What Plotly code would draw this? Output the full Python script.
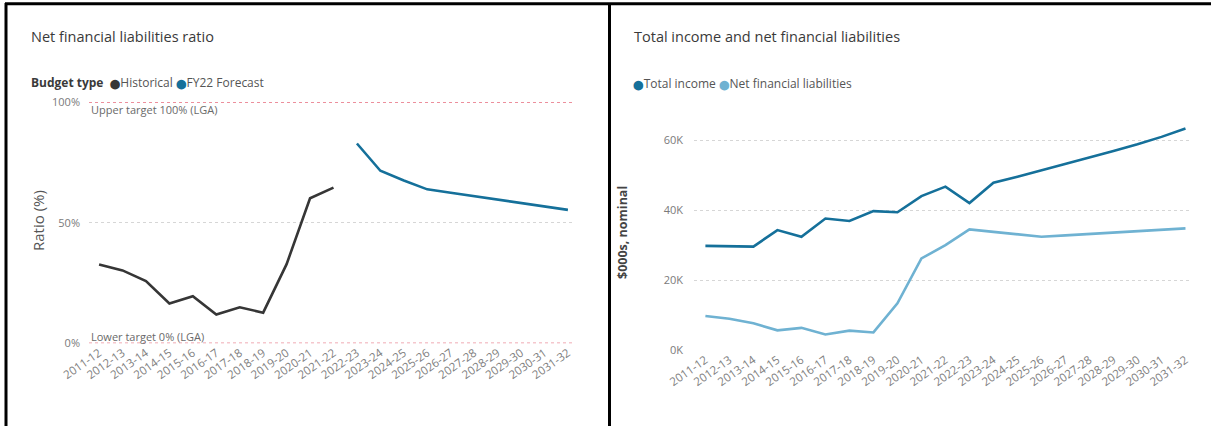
import plotly.graph_objects as go

W, H = 1211, 426

years = ["2011-12", "2012-13", "2013-14", "2014-15", "2015-16", "2016-17", "2017-18",
         "2018-19", "2019-20", "2020-21", "2021-22", "2022-23", "2023-24", "2024-25",
         "2025-26", "2026-27", "2027-28", "2028-29", "2029-30", "2030-31", "2031-32"]

hist_years = years[:11]
hist_ratio = [32.7, 30.2, 25.8, 16.5, 19.5, 11.9, 14.9, 12.7, 32.8, 60.1, 64.5]
fc_years = years[11:]
fc_ratio = [82.8, 71.5, 67.5, 63.8, 62.4, 61.0, 59.6, 58.2, 56.8, 55.3]

total_income = [29.8, 29.8, 29.6, 34.3, 32.4, 37.6, 36.9, 39.7, 39.4, 44.0, 46.7,
                42.0, 47.8, 49.5, 51.3, 53.1, 55.0, 56.9, 58.8, 60.9, 63.3]
net_fin_liab = [9.8, 9.0, 7.7, 5.7, 6.4, 4.5, 5.6, 5.1, 13.4, 26.2, 30.0,
                34.5, 33.8, 33.1, 32.4, 32.8, 33.2, 33.6, 34.0, 34.4, 34.8]

ratio_ticks = [0, 50, 100]
ratio_ticktext = ["0%", "50%", "100%"]
k_ticks = [0, 20, 40, 60]
k_ticktext = ["0K", "20K", "40K", "60K"]

C_HIST = "#363636"
C_FC = "#15709a"
C_TI = "#15709a"
C_NFL = "#6fb2d2"
PINK = "#ec8f9c"
FONT = "Open Sans"


def px_x(x):
    return x / W


def px_y(y):
    return 1 - y / H


fig = go.Figure()

fig.add_trace(go.Scatter(x=hist_years, y=hist_ratio, mode="lines", name="Historical",
                         line=dict(color=C_HIST, width=2.6), xaxis="x", yaxis="y"))
fig.add_trace(go.Scatter(x=fc_years, y=fc_ratio, mode="lines", name="FY22 Forecast",
                         line=dict(color=C_FC, width=2.6), xaxis="x", yaxis="y"))
fig.add_trace(go.Scatter(x=years, y=net_fin_liab, mode="lines", name="Net financial liabilities",
                         line=dict(color=C_NFL, width=2.6), xaxis="x2", yaxis="y2"))
fig.add_trace(go.Scatter(x=years, y=total_income, mode="lines", name="Total income",
                         line=dict(color=C_TI, width=2.6), xaxis="x2", yaxis="y2"))

xtickfont = dict(family=FONT, size=11.5, color="#808080")
ytickfont = dict(family=FONT, size=11, color="#7a7a7a")
GRID = "#d6d6d6"

fig.update_layout(
    template="none",
    xaxis=dict(domain=[px_x(89), px_x(574)], type="category", categoryorder="array",
               categoryarray=years, range=[-0.43, 20.26], tickmode="array", tickvals=years,
               tickangle=-35, tickfont=xtickfont, showgrid=False, zeroline=False,
               showline=False, ticks="", anchor="y", automargin=False),
    yaxis=dict(domain=[px_y(343.3), px_y(102)], range=[0, 100], tickmode="array",
               tickvals=ratio_ticks, ticktext=ratio_ticktext, tickfont=ytickfont,
               showgrid=True, gridcolor=GRID, griddash="dot", gridwidth=1,
               zeroline=False, showline=False, ticks="", ticklabelstandoff=8, anchor="x",
               automargin=False),
    xaxis2=dict(domain=[px_x(694), px_x(1191)], type="category", categoryorder="array",
                categoryarray=years, range=[-0.475, 20.23], tickmode="array", tickvals=years,
                tickangle=-35, tickfont=xtickfont, showgrid=False, zeroline=False,
                showline=False, ticks="", anchor="y2", automargin=False),
    yaxis2=dict(domain=[px_y(350.3), px_y(119)], range=[0, 66], tickmode="array",
                tickvals=k_ticks, ticktext=k_ticktext, tickfont=ytickfont,
                showgrid=True, gridcolor=GRID, griddash="dot", gridwidth=1,
                zeroline=False, showline=False, ticks="", ticklabelstandoff=10, anchor="x2",
                automargin=False),
)

shapes = []
for v in [0, 100]:
    shapes.append(dict(type="line", xref="x domain", yref="y", x0=0, x1=1, y0=v, y1=v,
                       line=dict(color=PINK, width=1.8, dash="dot"), layer="below"))
bl = dict(color="black", width=3)
shapes.append(dict(type="line", xref="paper", yref="paper", x0=px_x(6), x1=px_x(6),
                   y0=0, y1=px_y(3), line=bl))
shapes.append(dict(type="line", xref="paper", yref="paper", x0=px_x(5), x1=1,
                   y0=px_y(3.8), y1=px_y(3.8), line=bl))
shapes.append(dict(type="line", xref="paper", yref="paper", x0=px_x(609.5), x1=px_x(609.5),
                   y0=0, y1=px_y(3), line=bl))

ann = []
title_font = dict(family=FONT, size=14.5, color="#3a3a3a")
ann.append(dict(text="Net financial liabilities ratio", x=px_x(29), y=px_y(36),
                xref="paper", yref="paper", xanchor="left", yanchor="middle",
                showarrow=False, font=title_font))
ann.append(dict(text="Total income and net financial liabilities", x=px_x(632), y=px_y(36),
                xref="paper", yref="paper", xanchor="left", yanchor="middle",
                showarrow=False, font=title_font))

DOT = "<span style='font-family:DejaVu Sans;font-size:9.5px;color:{c}'>⬤</span>"
leg_font = dict(family=FONT, size=12, color="#555555")
ann.append(dict(text=("<b style='color:#3a3a3a'>Budget type</b>&nbsp;&nbsp;"
                      + DOT.format(c=C_HIST) + "Historical "
                      + DOT.format(c=C_FC) + "FY22 Forecast"),
                x=px_x(29), y=px_y(82), xref="paper", yref="paper", xanchor="left",
                yanchor="middle", showarrow=False, font=leg_font))
ann.append(dict(text=(DOT.format(c=C_TI) + "Total income "
                      + DOT.format(c=C_NFL) + "Net financial liabilities"),
                x=px_x(631), y=px_y(83), xref="paper", yref="paper", xanchor="left",
                yanchor="middle", showarrow=False, font=leg_font))

tgt_font = dict(family=FONT, size=11, color="#6a6a6a")
ann.append(dict(text="Upper target 100% (LGA)", x=px_x(89), y=px_y(109.5), xref="paper",
                yref="paper", xanchor="left", yanchor="middle", showarrow=False, font=tgt_font))
ann.append(dict(text="Lower target 0% (LGA)", x=px_x(89), y=px_y(336.5), xref="paper",
                yref="paper", xanchor="left", yanchor="middle", showarrow=False, font=tgt_font))

ann.append(dict(text="Ratio (%)", x=px_x(38), y=px_y(221), xref="paper", yref="paper",
                xanchor="center", yanchor="middle", textangle=-90, showarrow=False,
                font=dict(family=FONT, size=15, color="#555555")))
ann.append(dict(text="<b>$000s, nominal</b>", x=px_x(622), y=px_y(233), xref="paper",
                yref="paper", xanchor="center", yanchor="middle", textangle=-90,
                showarrow=False, font=dict(family=FONT, size=12.5, color="#444444")))

fig.update_layout(
    width=W, height=H, margin=dict(l=0, r=0, t=0, b=0, pad=0, autoexpand=False),
    paper_bgcolor="white", plot_bgcolor="white", showlegend=False,
    shapes=shapes, annotations=ann,
)

fig.write_html("out.html")
